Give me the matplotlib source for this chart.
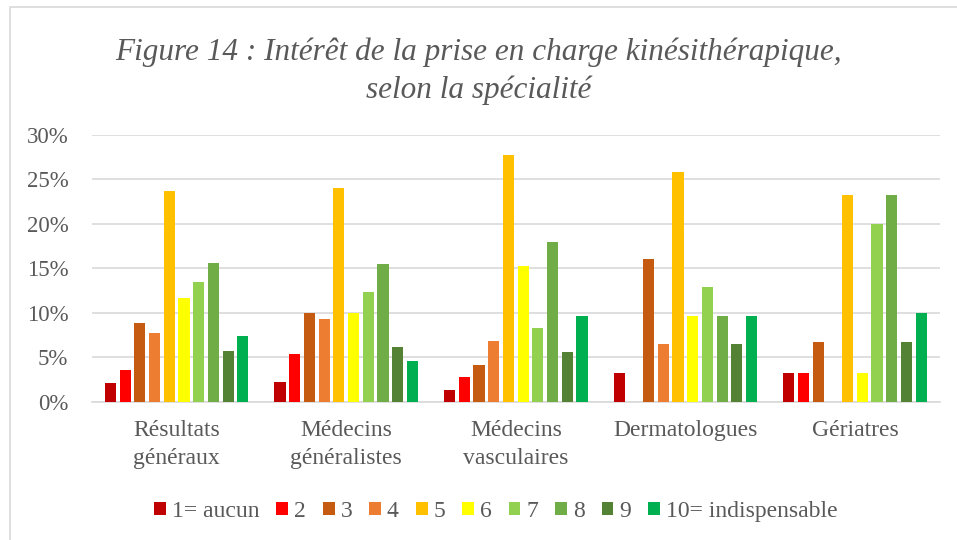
import numpy as np
import matplotlib.pyplot as plt
from matplotlib.patches import Rectangle

# data
groups = ['Résultats\ngénéraux', 'Médecins\ngénéralistes', 'Médecins\nvasculaires',
          'Dermatologues', 'Gériatres']
series = ['1= aucun', '2', '3', '4', '5', '6', '7', '8', '9', '10= indispensable']
colors = ['#C00000', '#FF0000', '#C55A11', '#ED7D31', '#FFC000',
          '#FFFF00', '#92D050', '#70AD47', '#548235', '#00B050']

resultats = [2.1, 3.6, 8.9, 7.8, 23.7, 11.7, 13.5, 15.6, 5.7, 7.4]
generalistes = [2.3, 5.4, 10.0, 9.3, 24.0, 10.0, 12.4, 15.5, 6.2, 4.6]
vasculaires = [1.4, 2.8, 4.2, 6.9, 27.8, 15.3, 8.3, 18.0, 5.6, 9.7]
dermatologues = [3.2, 0, 16.1, 6.5, 25.8, 9.7, 12.9, 9.7, 6.5, 9.7]
geriatres = [3.3, 3.3, 6.7, 0, 23.3, 3.3, 20.0, 23.3, 6.7, 10.0]

values = np.array([resultats, generalistes, vasculaires, dermatologues, geriatres])

grey = '#595959'
plt.rcParams['font.family'] = ['Liberation Serif', 'DejaVu Serif']

fig = plt.figure(figsize=(9.57, 5.4), dpi=100)
ax = fig.add_axes([0.096, 0.2556, 0.886, 0.4944])

# chart border
fig.patches.append(Rectangle((10/957, -0.1), 1.2, (540-7)/540 + 0.1,
                             transform=fig.transFigure, fill=False,
                             edgecolor='#D9D9D9', linewidth=1.2))

x = np.arange(len(groups))
slot = 0.0867
for i, name in enumerate(series):
    ax.bar(x + (i - 4.5)*slot, values[:, i], width=slot*0.76, color=colors[i],
           label=name, zorder=3)

ax.set_xlim(-0.5, len(groups) - 0.5)
ax.set_ylim(0, 30)
ax.set_yticks(range(0, 31, 5))
ax.set_yticklabels([f'{v}%' for v in range(0, 31, 5)])
ax.set_xticks(x)
ax.set_xticklabels(groups, linespacing=1.45)
ax.tick_params(axis='x', length=0, labelsize=17, colors=grey, pad=13)
ax.tick_params(axis='y', length=0, labelsize=16.5, colors=grey, pad=17)
ax.grid(axis='y', color='#D9D9D9', linewidth=1.2, zorder=0)
for s in ['top', 'right', 'left']:
    ax.spines[s].set_visible(False)
ax.spines['bottom'].set_color('#D9D9D9')
ax.spines['bottom'].set_linewidth(1.2)

fig.text(0.5, 0.931, 'Figure 14 : Intérêt de la prise en charge kinésithérapique,\nselon la spécialité',
         ha='center', va='top', fontsize=22.5, style='italic', color=grey, linespacing=1.38)

ax.legend(loc='center', bbox_to_anchor=(0.518, 0.053), bbox_transform=fig.transFigure,
          ncol=10, frameon=False, fontsize=17, labelcolor=grey,
          handlelength=0.5, handleheight=0.5, handletextpad=0.25, columnspacing=0.72)

fig.savefig('out.png', dpi=100)
